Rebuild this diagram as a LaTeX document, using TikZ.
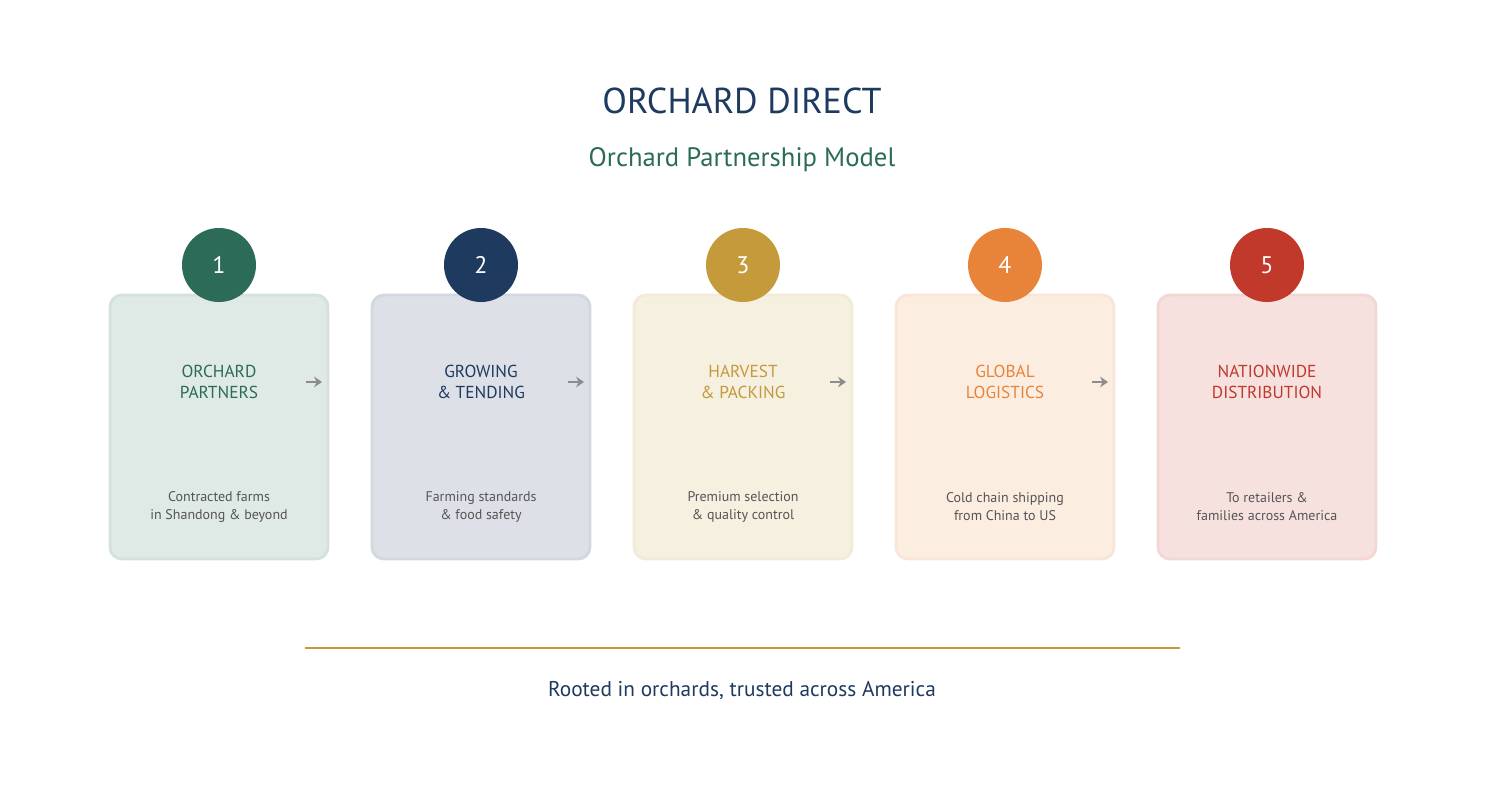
\documentclass[tikz,border=0pt]{standalone}
\usepackage{fontspec}
\setmainfont{PT Sans}
\usetikzlibrary{arrows.meta}
\definecolor{cA}{HTML}{2B6B58}
\definecolor{cB}{HTML}{1E3A5F}
\definecolor{cC}{HTML}{C49A3A}
\definecolor{cD}{HTML}{E8843A}
\definecolor{cE}{HTML}{C0392B}
\definecolor{txt}{HTML}{555555}
\begin{document}
\begin{tikzpicture}[x=0.75pt,y=-0.75pt,
  box/.style={draw=#1!20,fill=#1!15,line width=2.2pt,rounded corners=8pt,minimum width=216\pgflinewidth,inner sep=0pt},
  circ/.style={circle,fill=#1,minimum size=74*0.75pt,inner sep=0pt,text=white,font=\fontsize{18}{20}\selectfont},
  lab/.style={text=#1,align=center,font=\fontsize{13}{16}\selectfont},
  desc/.style={text=txt,align=center,font=\fontsize{10.5}{13.5}\selectfont},
  arr/.style={draw=gray!90,line width=2.2pt,-{Stealth[length=6pt,width=8pt,inset=2pt]}}]
\useasboundingbox (0,0) rectangle (1485,810);
\node[text=cB,font=\fontsize{27}{30}\selectfont] (title) at (742,101) {ORCHARD DIRECT};
\node[text=cA,font=\fontsize{20}{24}\selectfont] (sub) at (742,160) {Orchard Partnership Model};
\foreach \i/\c/\la/\lb/\da/\db in {1/cA/ORCHARD/PARTNERS/Contracted farms/in Shandong \& beyond,
  2/cB/GROWING/\& TENDING/Farming standards/\& food safety,
  3/cC/HARVEST/\& PACKING/Premium selection/\& quality control,
  4/cD/GLOBAL/LOGISTICS/Cold chain shipping/from China to US,
  5/cE/NATIONWIDE/DISTRIBUTION/To retailers \&/families across America}{
  \pgfmathsetmacro\cx{219+262*(\i-1)}
  \draw[draw=\c!20,fill=\c!15,line width=2.2pt,rounded corners=9pt] (\cx-109,295) rectangle (\cx+109,559);
  \node[circle,fill=\c,minimum size=55.5pt,inner sep=0pt,text=white,font=\fontsize{18}{20}\selectfont] (c\i) at (\cx,265) {\i};
  \node[lab=\c] (l\i) at (\cx,382) {\la\\\lb};
  \node[desc] (d\i) at (\cx,507) {\da\\\db};
}
\foreach \i in {1,...,4}{
  \pgfmathsetmacro\ax{219+262*(\i-1)+87}
  \coordinate (s\i) at (\ax,382);
  \coordinate (e\i) at (\ax+16,382);
  \draw[arr] (s\i) -- (e\i);
}
\coordinate (la) at (305,648);
\coordinate (lb) at (1180,648);
\draw[cC,line width=2.2pt] (la) -- (lb);
\node[text=cB,font=\fontsize{16}{19}\selectfont] (foot) at (742,690) {Rooted in orchards, trusted across America};
\end{tikzpicture}
\end{document}
